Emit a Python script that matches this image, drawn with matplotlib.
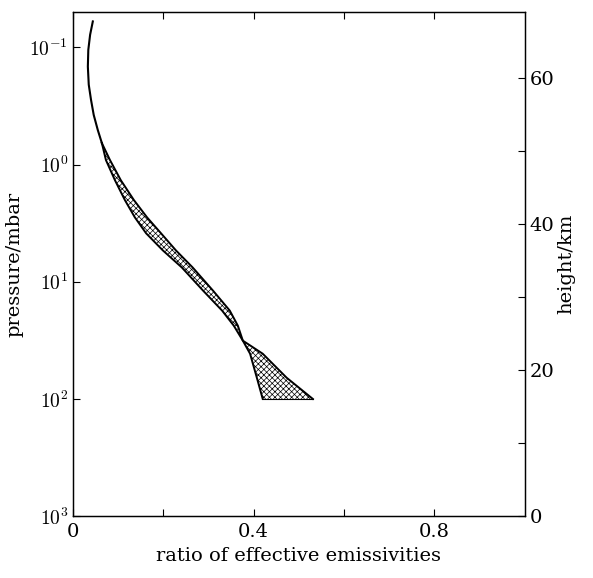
import numpy as np
import matplotlib
matplotlib.use('Agg')
import matplotlib.pyplot as plt

plt.rcParams['font.family'] = 'DejaVu Serif'
plt.rcParams['mathtext.fontset'] = 'cm'
plt.rcParams['hatch.linewidth'] = 0.5

# single curve above the split
p_top = [0.060, 0.078, 0.105, 0.146, 0.208, 0.280, 0.377, 0.507, 0.655]
x_top = [0.044, 0.038, 0.034, 0.033, 0.035, 0.040, 0.046, 0.055, 0.064]

# two bounding curves of the hatched band
p_band = [0.655, 0.915, 1.36, 2.01, 2.82, 3.86, 5.40, 7.55, 11.9, 17.6, 23.7, 31.8, 41.1, 65.9, 100]
x_a = [0.064, 0.073, 0.093, 0.115, 0.137, 0.162, 0.199, 0.241, 0.288, 0.330, 0.356, 0.376, 0.420, 0.473, 0.531]
x_b = [0.064, 0.082, 0.106, 0.135, 0.164, 0.195, 0.228, 0.265, 0.310, 0.347, 0.365, 0.376, 0.392, 0.407, 0.420]

fig = plt.figure(figsize=(5.93, 5.78), dpi=100)
ax = fig.add_axes([0.123, 0.107, 0.762, 0.872])

ax.plot(x_top, p_top, color='black', lw=1.5)
ax.plot(x_a, p_band, color='black', lw=1.4)
ax.plot(x_b, p_band, color='black', lw=1.4)
ax.fill_betweenx(p_band, x_a, x_b, facecolor='none', edgecolor='black', hatch='xxxxxx', lw=0)
ax.plot([x_a[-1], x_b[-1]], [p_band[-1], p_band[-1]], color='black', lw=0.8)

ax.set_yscale('log')
ax.set_ylim(1000, 0.05)
ax.set_xlim(0, 1)
ax.set_yticks([0.1, 1, 10, 100, 1000])
ax.set_yticklabels([r'$10^{-1}$', r'$10^{0}$', r'$10^{1}$', r'$10^{2}$', r'$10^{3}$'])
ax.yaxis.set_minor_locator(matplotlib.ticker.NullLocator())
ax.set_xticks([0, 0.2, 0.4, 0.6, 0.8])
ax.set_xticklabels(['0', '', '0.4', '', '0.8'])
ax.tick_params(axis='both', direction='in', length=5, width=0.8, labelsize=14, top=True)
ax.tick_params(axis='x', pad=5)
ax.set_xlabel('ratio of effective emissivities', fontsize=14, labelpad=4)
ax.set_ylabel('pressure/mbar', fontsize=14, labelpad=4)

ax2 = ax.twinx()
ax2.set_ylim(0, 69)
ax2.set_yticks([0, 10, 20, 30, 40, 50, 60])
ax2.set_yticklabels(['0', '', '20', '', '40', '', '60'])
ax2.tick_params(axis='y', direction='in', length=5, width=0.8, labelsize=14)
ax2.set_ylabel('height/km', fontsize=14, labelpad=2)

for a in (ax, ax2):
    for s in a.spines.values():
        s.set_linewidth(0.9)

fig.savefig('out.png', dpi=100)
